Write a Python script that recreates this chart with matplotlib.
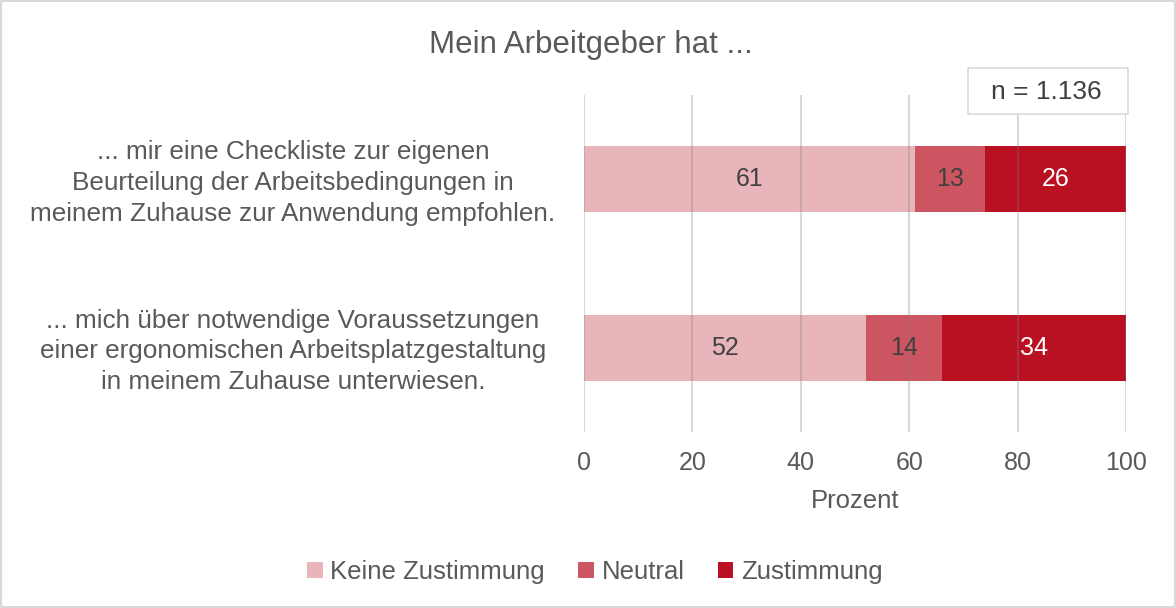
import matplotlib

matplotlib.use("Agg")
import matplotlib.pyplot as plt
import matplotlib.transforms as mtransforms
from matplotlib.patches import Rectangle

plt.rcParams["font.family"] = ["Liberation Sans", "DejaVu Sans"]

# data
categories = [
	"... mir eine Checkliste zur eigenen\nBeurteilung der Arbeitsbedingungen in\nmeinem Zuhause zur Anwendung empfohlen.",
	"... mich über notwendige Voraussetzungen\neiner ergonomischen Arbeitsplatzgestaltung\nin meinem Zuhause unterwiesen.",
]
series_names = ["Keine Zustimmung", "Neutral", "Zustimmung"]
keine = [61, 52]
neutral = [13, 14]
zustimmung = [26, 34]
x_ticks = [0, 20, 40, 60, 80, 100]
title = "Mein Arbeitgeber hat ..."
n_label = "n = 1.136"

colors = ["#E8B6BA", "#CD5561", "#B91022"]
label_colors = ["#404040", "#404040", "#FFFFFF"]
text_gray = "#595959"

fig = plt.figure(figsize=(11.76, 6.08), dpi=100)
ax = fig.add_axes([584 / 1176, 1 - 432 / 608, 542 / 1176, 337 / 608])

y_pos = [1, 0]
left = [0.0, 0.0]
for name, values, color, lcolor in zip(series_names, [keine, neutral, zustimmung], colors, label_colors):
	bars = ax.barh(y_pos, values, left=left, height=0.39, color=color, label=name, zorder=1)
	for bar, v in zip(bars, values):
		ax.text(bar.get_x() + bar.get_width() / 2, bar.get_y() + bar.get_height() / 2, str(v),
			ha="center", va="center", fontsize=18, color=lcolor, zorder=3)
	left = [l + v for l, v in zip(left, values)]

# gridlines over the bars, faint
for t in x_ticks:
	ax.axvline(t, color="#808080", alpha=0.3, linewidth=1.5, zorder=2)

ax.set_xlim(0, 100)
ax.set_ylim(-0.5, 1.5)
ax.set_xticks(x_ticks)
ax.set_xticklabels([str(t) for t in x_ticks], fontsize=18, color=text_gray)
ax.tick_params(axis="x", length=0, pad=14)
ax.set_yticks([])
for spine in ax.spines.values():
	spine.set_visible(False)
ax.set_xlabel("Prozent", fontsize=18.5, color=text_gray, labelpad=10)

trans = mtransforms.blended_transform_factory(fig.transFigure, ax.transData)
for y, cat in zip(y_pos, categories):
	ax.text(293 / 1176, y - 0.022, cat, transform=trans, ha="center", va="center",
		fontsize=18.8, color=text_gray, linespacing=1.36, multialignment="center")

fig.text(591 / 1176, 1 - 45 / 608, title, ha="center", va="center", fontsize=22.5, color=text_gray)

# n box
fig.patches.append(Rectangle((968 / 1176, 1 - 114 / 608), 160 / 1176, 46 / 608,
	transform=fig.transFigure, facecolor="white", edgecolor="#D9D9D9", linewidth=1.2, zorder=5))
fig.text(1046 / 1176, 1 - 92 / 608, n_label, ha="center", va="center", fontsize=19, color="#404040", zorder=6)

# figure frame
fig.patches.append(Rectangle((0.001, 0.002), 0.998, 0.996, transform=fig.transFigure,
	facecolor="none", edgecolor="#D9D9D9", linewidth=1.5))

handles, labels = ax.get_legend_handles_labels()
fig.legend(handles, labels, loc="center", bbox_to_anchor=(595 / 1176, 1 - 572 / 608), ncol=3,
	frameon=False, fontsize=18.5, labelcolor=text_gray, handlelength=0.6, handleheight=0.6,
	handletextpad=0.3, columnspacing=1.3)

fig.savefig("out.png", dpi=100)
